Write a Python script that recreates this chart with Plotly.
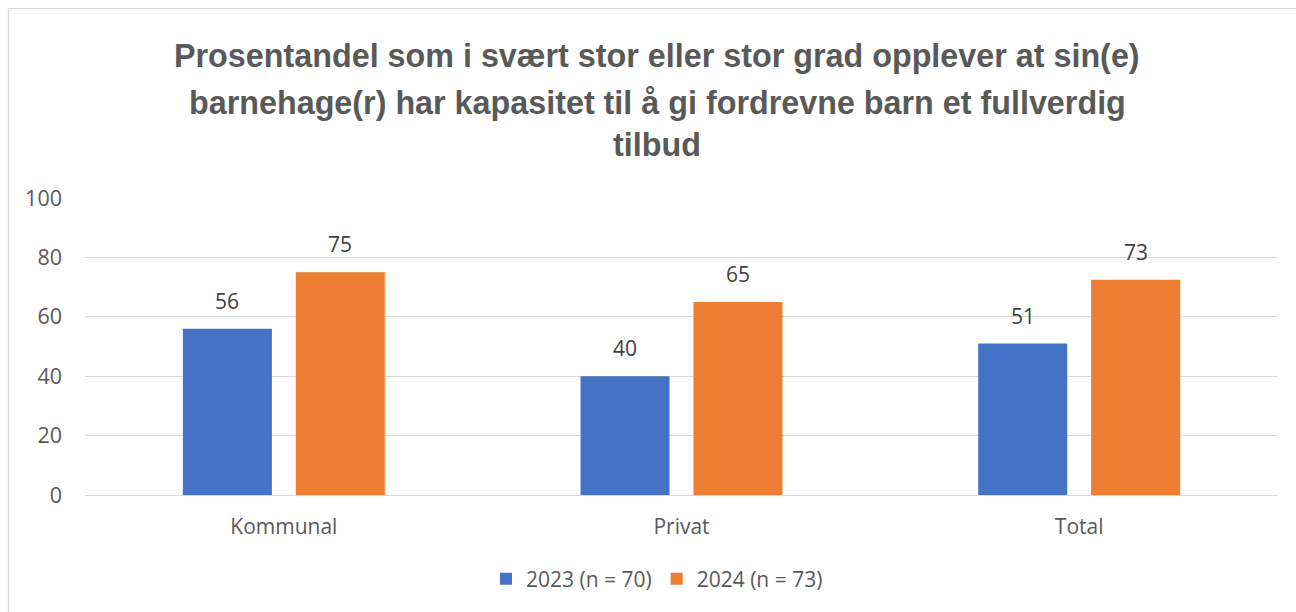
import plotly.graph_objects as go

categories = ["Kommunal", "Privat", "Total"]
series_names = ["2023 (n = 70)", "2024 (n = 73)"]
values_2023 = [56, 40, 51]
values_2024 = [75, 65, 72.5]
labels_2023 = ["56", "40", "51"]
labels_2024 = ["75", "65", "73"]
y_ticks = [0, 20, 40, 60, 80, 100]
title_lines = [
    "Prosentandel som i svært stor eller stor grad opplever at sin(e)",
    "barnehage(r) har kapasitet til å gi fordrevne barn et fullverdig",
    "tilbud",
]

colors = ["#4472C4", "#ED7D31"]
TITLE_FONT = "'Liberation Sans', Arial, sans-serif"
FONT = "'Open Sans', 'Noto Sans', sans-serif"

fig = go.Figure()
for name, vals, col in zip(series_names, [values_2023, values_2024], colors):
    fig.add_trace(go.Bar(x=categories, y=vals, name=name, marker_color=col,
                         marker_line_width=0, hoverinfo="y"))

W, H = 1296, 612
L, R, T, B = 85, 18, 198, 117
plot_w = W - L - R
plot_h = H - T - B

annotations = []
title_y_px = [56, 103, 145]
for line, py in zip(title_lines, title_y_px):
    annotations.append(dict(text=f"<b>{line}</b>", x=(657 - L) / plot_w, y=(H - B - py) / plot_h,
                            xref="paper", yref="paper", showarrow=False, xanchor="center",
                            yanchor="middle", font=dict(size=32.3, color="#595959", family=TITLE_FONT)))
shift = 56.5
for vals, labs, sx in [(values_2023, labels_2023, -shift), (values_2024, labels_2024, shift)]:
    for c, v, t in zip(categories, vals, labs):
        annotations.append(dict(text=t, x=c, y=v, xref="x", yref="y", showarrow=False,
                                xanchor="center", yanchor="bottom", xshift=sx, yshift=12,
                                font=dict(size=21, color="#404040", family=FONT)))

fig.update_layout(
    width=W, height=H,
    margin=dict(l=L, r=R, t=T, b=B, autoexpand=False),
    paper_bgcolor="white", plot_bgcolor="white",
    barmode="group", bargap=0.432, bargroupgap=0.212,
    font=dict(family=FONT, size=21, color="#595959"),
    showlegend=True,
    legend=dict(orientation="h", x=(657 - L) / plot_w, xanchor="center",
                y=(H - B - 579) / plot_h, yanchor="middle",
                font=dict(size=21, color="#595959", family=FONT),
                itemsizing="constant", traceorder="normal"),
    annotations=annotations,
    shapes=[dict(type="rect", xref="paper", yref="paper",
                 x0=(8.5 - L) / plot_w, x1=(W + 10 - L) / plot_w,
                 y0=(H - B - (H + 10)) / plot_h, y1=(H - B - 8.5) / plot_h,
                 line=dict(color="#D9D9D9", width=1.2), fillcolor="rgba(0,0,0,0)", layer="below")],
)
fig.update_yaxes(range=[0, 100], tickvals=y_ticks, showgrid=True, gridcolor="#D9D9D9",
                 gridwidth=1.2, zeroline=False, showline=False, ticks="",
                 tickfont=dict(size=21.5, color="#595959"), ticklabelstandoff=22)
fig.update_xaxes(showline=True, linecolor="#D9D9D9", linewidth=1.2, ticks="",
                 tickfont=dict(size=21, color="#595959"), ticklabelstandoff=13)

fig.write_html("out.html", config={"displayModeBar": False},
               post_script="document.body.style.margin='0';")
